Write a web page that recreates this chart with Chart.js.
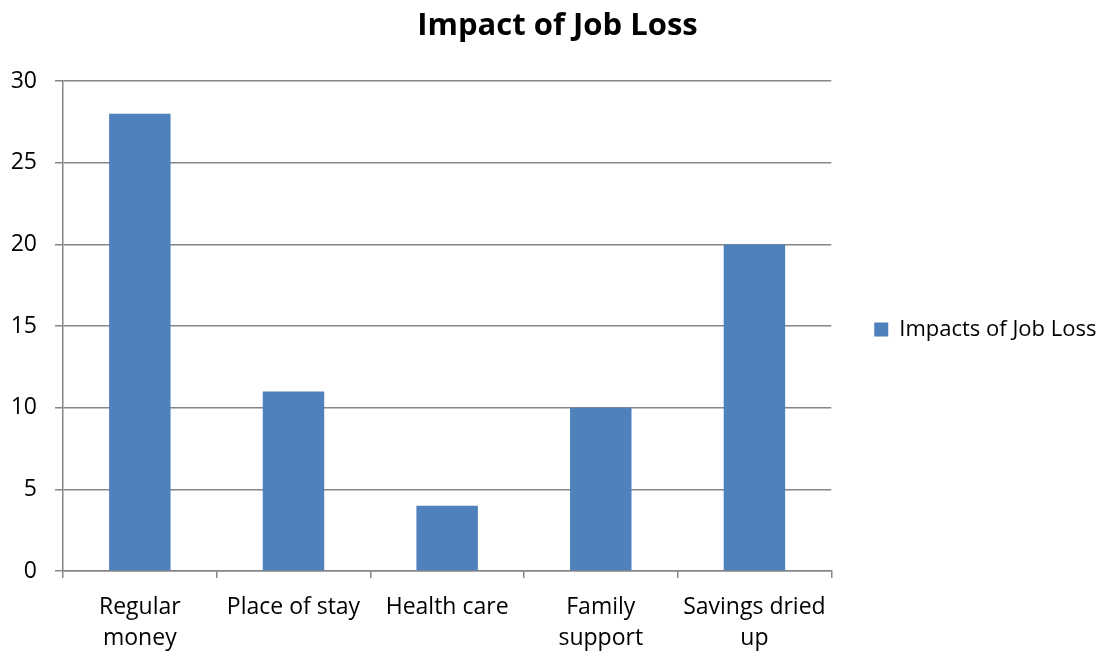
<!DOCTYPE html>
<html>
<head>
<meta charset="utf-8">
<title>Impact of Job Loss</title>
<script src="https://cdn.jsdelivr.net/npm/chart.js@4.4.0/dist/chart.umd.min.js"></script>
<style>
  html, body { margin: 0; padding: 0; background: #fff; }
  #wrap { width: 1109px; height: 651px; }
</style>
</head>
<body>
<div id="wrap"><canvas id="jobLossChart" width="1109" height="651"></canvas></div>
<script>
// kategorier och värden
const categories = [['Regular', 'money'], 'Place of stay', 'Health care', ['Family', 'support'], ['Savings dried', 'up']];
const impacts = [28, 11, 4, 10, 20];
const yTicks = [0, 5, 10, 15, 20, 25, 30];

const fontFamily = "'Open Sans', 'DejaVu Sans', sans-serif";
const gridColor = '#868686';

document.addEventListener('DOMContentLoaded', () => {
    renderChart();
});

function renderChart() {
    const ctx = document.getElementById('jobLossChart');
    new Chart(ctx, {
        type: 'bar',
        data: {
            labels: categories,
            datasets: [{
                label: 'Impacts of Job Loss',
                data: impacts,
                backgroundColor: '#4F81BD',
                borderWidth: 0,
                categoryPercentage: 1,
                barPercentage: 0.4
            }]
        },
        options: {
            responsive: false,
            animation: false,
            layout: { padding: { top: 8, left: 10, right: 4, bottom: 0 } },
            plugins: {
                title: {
                    display: true,
                    text: 'Impact of Job Loss',
                    color: '#000',
                    font: { family: fontFamily, size: 31, weight: 'bold' },
                    padding: { top: 0, bottom: 36 }
                },
                legend: {
                    position: 'right',
                    labels: {
                        color: '#000',
                        boxWidth: 14,
                        boxHeight: 14,
                        padding: 43,
                        font: { family: fontFamily, size: 22 }
                    }
                },
                tooltip: { enabled: false }
            },
            scales: {
                x: {
                    // fast höjd för etiketterna under axeln
                    afterFit: axis => { axis.height = 80; },
                    grid: {
                        offset: true,
                        drawOnChartArea: false,
                        color: gridColor,
                        tickLength: 7,
                        lineWidth: 1.5
                    },
                    border: { color: gridColor, width: 1.5 },
                    ticks: {
                        color: '#000',
                        font: { family: fontFamily, size: 23, lineHeight: 1.35 },
                        maxRotation: 0,
                        autoSkip: false,
                        padding: 14
                    }
                },
                y: {
                    min: 0,
                    max: 30,
                    afterBuildTicks: axis => {
                        axis.ticks = yTicks.map(v => ({ value: v }));
                    },
                    afterFit: axis => { axis.width = 53; },
                    grid: {
                        color: gridColor,
                        tickLength: 8,
                        lineWidth: 1.5
                    },
                    border: { color: gridColor, width: 1.5 },
                    ticks: {
                        color: '#000',
                        font: { family: fontFamily, size: 23 },
                        padding: 18
                    }
                }
            }
        }
    });
}
</script>
</body>
</html>
